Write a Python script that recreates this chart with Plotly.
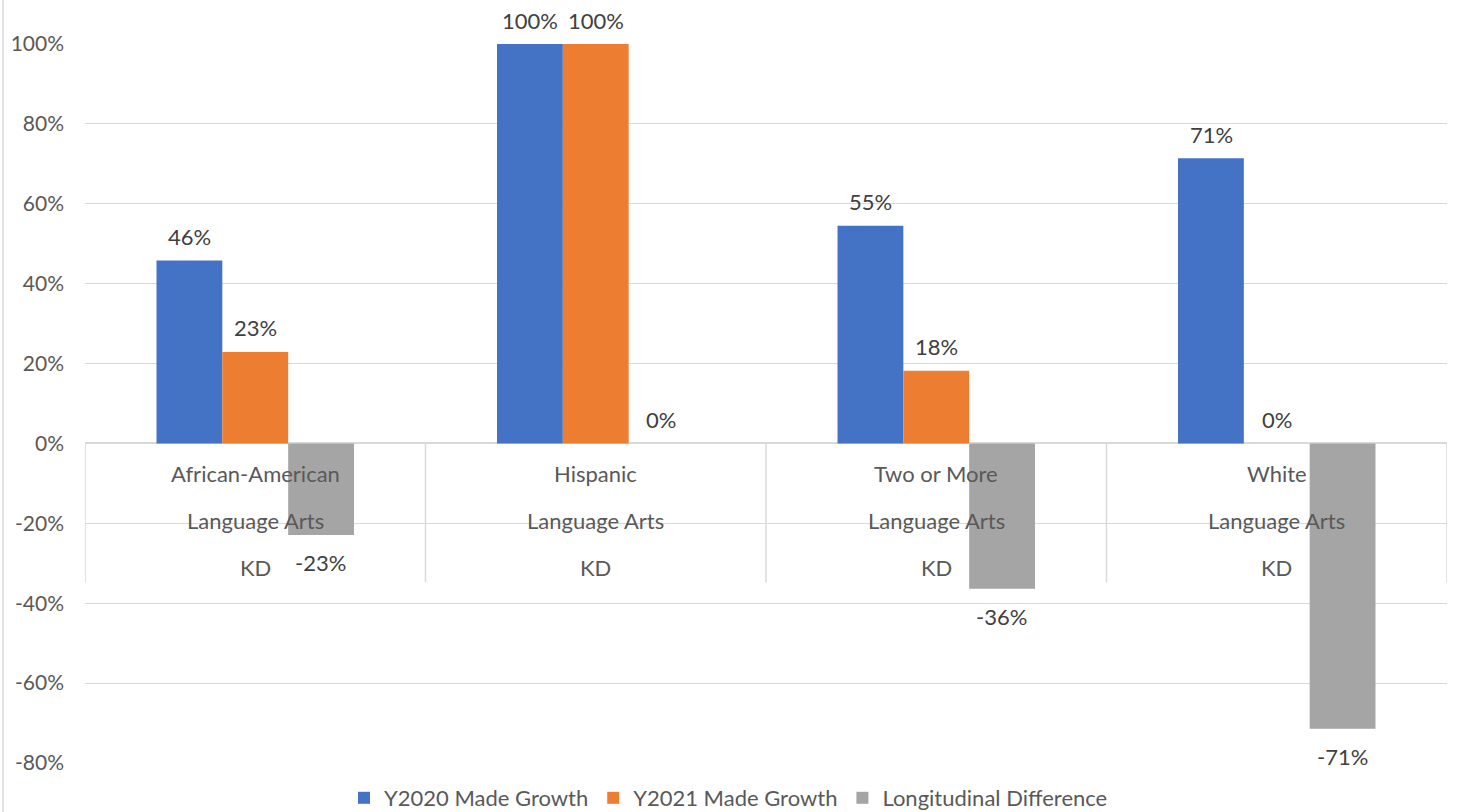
import math
import plotly.graph_objects as go

categories = ["African-American", "Hispanic", "Two or More", "White"]
subject = "Language Arts"
grade = "KD"
series_names = ["Y2020 Made Growth", "Y2021 Made Growth", "Longitudinal Difference"]
y2020 = [45.8, 100.0, 54.5, 71.4]
y2021 = [22.9, 100.0, 18.2, 0.0]
diff = [-22.9, 0.0, -36.4, -71.4]
colors = ["#4472C4", "#ED7D31", "#A5A5A5"]
y_ticks = [-80, -60, -40, -20, 0, 20, 40, 60, 80, 100]


def pct(v):
    r = math.floor(abs(v) + 0.5)
    return f"{'-' if v < 0 and r else ''}{r}%"


FONT = "Lato, 'Liberation Sans', Arial, sans-serif"
fig = go.Figure()
all_series = [y2020, y2021, diff]
for name, vals, col in zip(series_names, all_series, colors):
    fig.add_trace(go.Bar(x=categories, y=vals, name=name, marker=dict(color=col, line=dict(width=0))))

# data labels
bar_px = 65.5
for si, vals in enumerate(all_series):
    for ci, v in enumerate(vals):
        fig.add_annotation(x=categories[ci], y=v, text=pct(v), showarrow=False,
                           xshift=(si - 1) * bar_px, yshift=24 if v >= 0 else -28,
                           yanchor="middle", font=dict(size=22, color="#404040", family=FONT))

# multi-level category labels inside plot
for c in categories:
    for txt, yy in [(c, -7.5), (subject, -19.4), (grade, -31.0)]:
        fig.add_annotation(x=c, y=yy, text=txt, showarrow=False, yanchor="middle",
                           font=dict(size=22, color="#595959", family=FONT))

# separators
for b in [-0.5, 0.5, 1.5, 2.5, 3.5]:
    fig.add_shape(type="line", xref="x", yref="y", x0=b, x1=b, y0=0, y1=-34.8,
                  line=dict(color="#D9D9D9", width=1.5), layer="below")

# chart left border
fig.add_shape(type="line", xref="paper", yref="paper", x0=(3 - 85) / 1362, x1=(3 - 85) / 1362,
              y0=-49 / 719, y1=1 + 44 / 719, line=dict(color="#D9D9D9", width=1.5))

fig.update_layout(
    width=1457, height=812,
    margin=dict(l=85, r=10, t=44, b=49, autoexpand=False),
    paper_bgcolor="white", plot_bgcolor="white",
    barmode="group", bargap=0.42, bargroupgap=0,
    font=dict(family=FONT, color="#595959", size=21),
    xaxis=dict(range=[-0.5, 3.5], showticklabels=False, showgrid=False, zeroline=False,
               showline=False, ticks=""),
    yaxis=dict(range=[-80, 100], tickvals=y_ticks, ticktext=[f"{t}%" for t in y_ticks],
               showgrid=True, gridcolor="#D9D9D9", gridwidth=1.2,
               zeroline=True, zerolinecolor="#D9D9D9", zerolinewidth=1.5,
               showline=False, ticks="", ticklabelstandoff=20,
               tickfont=dict(size=21, color="#595959", family=FONT)),
    legend=dict(orientation="h", xref="container", yref="container", x=0.5, xanchor="center",
                y=14 / 812, yanchor="middle", font=dict(size=22, color="#595959", family=FONT),
                itemwidth=30, traceorder="normal"),
    showlegend=True,
)

fig.write_html("out.html", config={"displayModeBar": False},
               post_script="document.body.style.margin='0';document.body.style.overflow='hidden';")
